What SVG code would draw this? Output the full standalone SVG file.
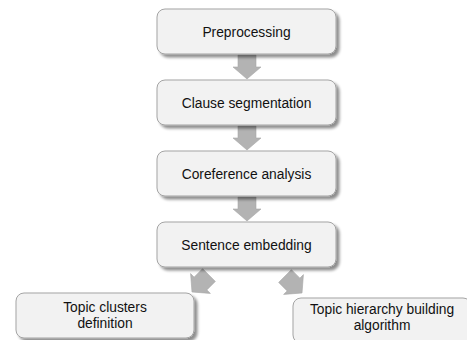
<svg xmlns="http://www.w3.org/2000/svg" width="467" height="340" viewBox="0 0 467 340">
  <defs>
    <filter id="shadow" x="-10%" y="-20%" width="125%" height="150%">
      <feGaussianBlur in="SourceAlpha" stdDeviation="1.6"/>
      <feOffset dx="2.5" dy="2.5" result="blur"/>
      <feComponentTransfer><feFuncA type="linear" slope="0.45"/></feComponentTransfer>
      <feMerge><feMergeNode/><feMergeNode in="SourceGraphic"/></feMerge>
    </filter>
    <!-- block arrow pointing down, tip at origin -->
    <polygon id="blockArrow" points="0,0 -14,-12 -9,-12 -9,-24 9,-24 9,-12 14,-12"/>
  </defs>
  <style>
    .box { fill: #f2f2f2; stroke: #a3a3a3; stroke-width: 1; filter: url(#shadow); }
    .label { font-family: "Liberation Sans", Arial, sans-serif; font-size: 13.8px; fill: #111; text-anchor: middle; }
    .arrow { fill: #b3b3b3; stroke: #a8a8a8; stroke-width: 0.6; }
  </style>

  <g id="connectors">
    <use href="#blockArrow" class="arrow" transform="translate(247,79)"/>
    <use href="#blockArrow" class="arrow" transform="translate(247,150)"/>
    <use href="#blockArrow" class="arrow" transform="translate(247,221)"/>
    <use href="#blockArrow" class="arrow" transform="translate(192,292) rotate(45)"/>
    <use href="#blockArrow" class="arrow" transform="translate(302,293) rotate(-45)"/>
  </g>

  <g id="preprocessing">
    <rect class="box" x="157" y="9" width="179" height="45" rx="8"/>
    <text class="label" x="246.5" y="37">Preprocessing</text>
  </g>
  <g id="clause-segmentation">
    <rect class="box" x="157" y="80" width="179" height="45" rx="8"/>
    <text class="label" x="246.5" y="108">Clause segmentation</text>
  </g>
  <g id="coreference-analysis">
    <rect class="box" x="157" y="151" width="179" height="45" rx="8"/>
    <text class="label" x="246.5" y="179">Coreference analysis</text>
  </g>
  <g id="sentence-embedding">
    <rect class="box" x="157" y="222" width="179" height="45" rx="8"/>
    <text class="label" x="246.5" y="250">Sentence embedding</text>
  </g>
  <g id="topic-clusters">
    <rect class="box" x="16" y="293" width="178" height="45" rx="8"/>
    <text class="label" x="105" y="312">Topic clusters</text>
    <text class="label" x="105" y="328">definition</text>
  </g>
  <g id="topic-hierarchy">
    <rect class="box" x="293" y="298" width="178" height="45" rx="8"/>
    <text class="label" x="382" y="314">Topic hierarchy building</text>
    <text class="label" x="382" y="330">algorithm</text>
  </g>
</svg>
